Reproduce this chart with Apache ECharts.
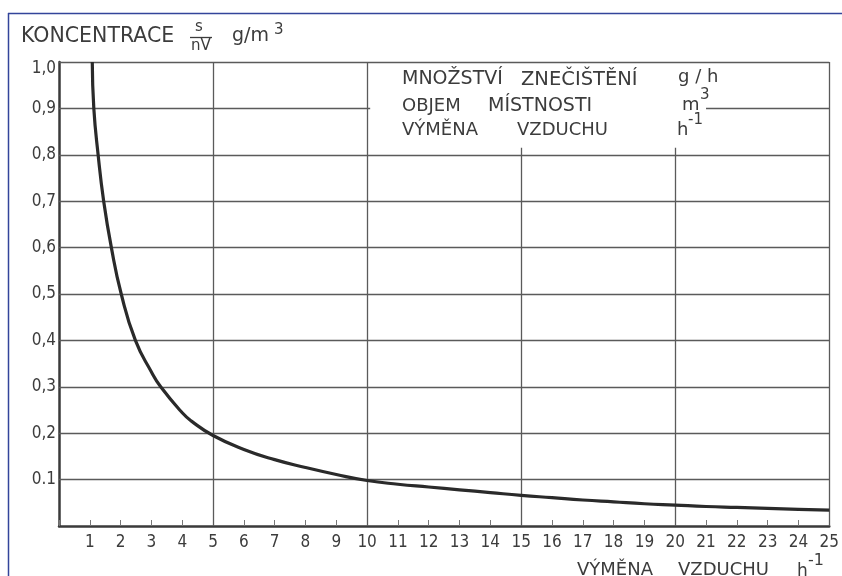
<!DOCTYPE html>
<html>
<head>
<meta charset="utf-8">
<script src="https://cdn.jsdelivr.net/npm/echarts@6/dist/echarts.min.js"></script>
<style>
html,body{margin:0;padding:0;background:#fff;}
#c{width:842px;height:576px;}
</style>
</head>
<body>
<div id="c"></div>
<script>
// ---- data ----
const xTickLabels = ['', '1','2','3','4','5','6','7','8','9','10','11','12','13','14','15','16','17','18','19','20','21','22','23','24','25'];
const yTickLabels = ['', '0.1','0,2','0,3','0,4','0,5','0,6','0,7','0,8','0,9','1,0'];
const curveX = [1.08, 1.13, 1.27, 1.45, 1.70, 2.02, 2.48, 3.0, 3.3, 4.0, 4.3, 5, 6, 7, 8, 9, 10, 11, 12, 13, 14, 15, 16, 17, 18, 19, 20, 21, 22, 23, 24, 25];
const curveY = [1.0, 0.9, 0.8, 0.7, 0.6, 0.5, 0.4, 0.332, 0.3, 0.244, 0.226, 0.195, 0.165, 0.143, 0.126, 0.111, 0.098, 0.090, 0.084, 0.078, 0.072, 0.066, 0.061, 0.056, 0.052, 0.048, 0.045, 0.042, 0.040, 0.038, 0.036, 0.034];
// grid lines (data coordinates)
const hLinesFull = [0.1, 0.2, 0.3, 0.4, 0.5, 0.6, 0.7, 0.8, 1.0];
const hLine09 = 0.9;
const hLine09Segments = [[0, 10.1], [21, 25]];
const vLinesFull = [5, 10, 25];
const vLinesPartial = [15, 20];
const vPartialTop = 0.815;

const FONT = 'DejaVu Sans Condensed';
const TFONT = 'DejaVu Sans';
const INK = '#3c3c3c';
const GRID = '#5a5a5a';

const markData = [];
hLinesFull.forEach(y => markData.push([{coord:[0,y]},{coord:[25,y]}]));
hLine09Segments.forEach(s => markData.push([{coord:[s[0],hLine09]},{coord:[s[1],hLine09]}]));
vLinesFull.forEach(x => markData.push([{coord:[x,0]},{coord:[x,1]}]));
vLinesPartial.forEach(x => markData.push([{coord:[x,0]},{coord:[x,vPartialTop]}]));

const f = (px, fam) => px + 'px "' + (fam || TFONT) + '"';
const T = (left, top, text, px) => ({type:'text', left, top, style:{text, font:f(px), fill:INK}});

const chart = echarts.init(document.getElementById('c'), null, {renderer:'canvas'});
chart.setOption({
  backgroundColor:'#fff',
  animation:false,
  grid:{left:59, right:9, top:62, bottom:50},
  xAxis:{
    type:'value', min:0, max:25, interval:1,
    axisLine:{show:true, lineStyle:{color:'#3a3a3a', width:2.5}},
    axisTick:{show:true, inside:true, length:6, lineStyle:{color:'#777', width:1}},
    axisLabel:{margin:8, color:INK, fontFamily:FONT, fontSize:17,
      formatter:(v)=>xTickLabels[Math.round(v)] || ''},
    splitLine:{show:false}
  },
  yAxis:{
    type:'value', min:0, max:1, interval:0.1,
    axisLine:{show:true, lineStyle:{color:'#3a3a3a', width:2.5}},
    axisTick:{show:false},
    axisLabel:{margin:3, color:INK, fontFamily:FONT, fontSize:17,
      formatter:(v)=>{
        const i = Math.round(v*10);
        const s = yTickLabels[i] || '';
        return i === 10 ? '{low|' + s + '}' : s;
      },
      rich:{low:{fontFamily:FONT, fontSize:17, color:INK, padding:[13,0,0,0]}}
    },
    splitLine:{show:false}
  },
  series:[
    {
      type:'line', data:[], silent:true,
      markLine:{silent:true, symbol:['none','none'], label:{show:false},
        lineStyle:{color:GRID, width:1.3, type:'solid'}, data:markData}
    },
    {
      type:'line', smooth:0.5, showSymbol:false,
      data:curveX.map((x,i)=>[x,curveY[i]]),
      lineStyle:{color:'#2a2a2a', width:3.2}, z:5
    }
  ],
  graphic:[
    // outer blue frame
    {type:'line', shape:{x1:8.5,y1:13,x2:8.5,y2:576}, style:{stroke:'#33449a', lineWidth:1.5}},
    {type:'line', shape:{x1:8,y1:13.5,x2:842,y2:13.5}, style:{stroke:'#33449a', lineWidth:1.5}},
    // title
    T(21, 26, 'KONCENTRACE', 20.5),
    T(195, 20, 's', 15),
    {type:'line', shape:{x1:190,y1:37.5,x2:212,y2:37.5}, style:{stroke:INK, lineWidth:1.3}},
    T(191, 39, 'nV', 15),
    T(232, 27, 'g/m', 19),
    T(274, 23, '3', 15),
    // legend block
    T(402, 70, 'MNOŽSTVÍ', 19),
    T(521, 70, 'ZNEČIŠTĚNÍ', 19.5),
    T(402, 97, 'OBJEM', 18),
    T(488, 97, 'MÍSTNOSTI', 19),
    T(402, 121, 'VÝMĚNA', 18),
    T(517, 121, 'VZDUCHU', 18),
    T(678, 68, 'g / h', 18),
    T(682, 96, 'm', 18),
    T(700, 88, '3', 15),
    T(677, 121, 'h', 18),
    T(688, 113, '-1', 15),
    // x axis name
    T(577, 561, 'VÝMĚNA', 18),
    T(678, 561, 'VZDUCHU', 18),
    T(797, 563, 'h', 17),
    T(808, 553, '-1', 16)
  ]
});
</script>
</body>
</html>
